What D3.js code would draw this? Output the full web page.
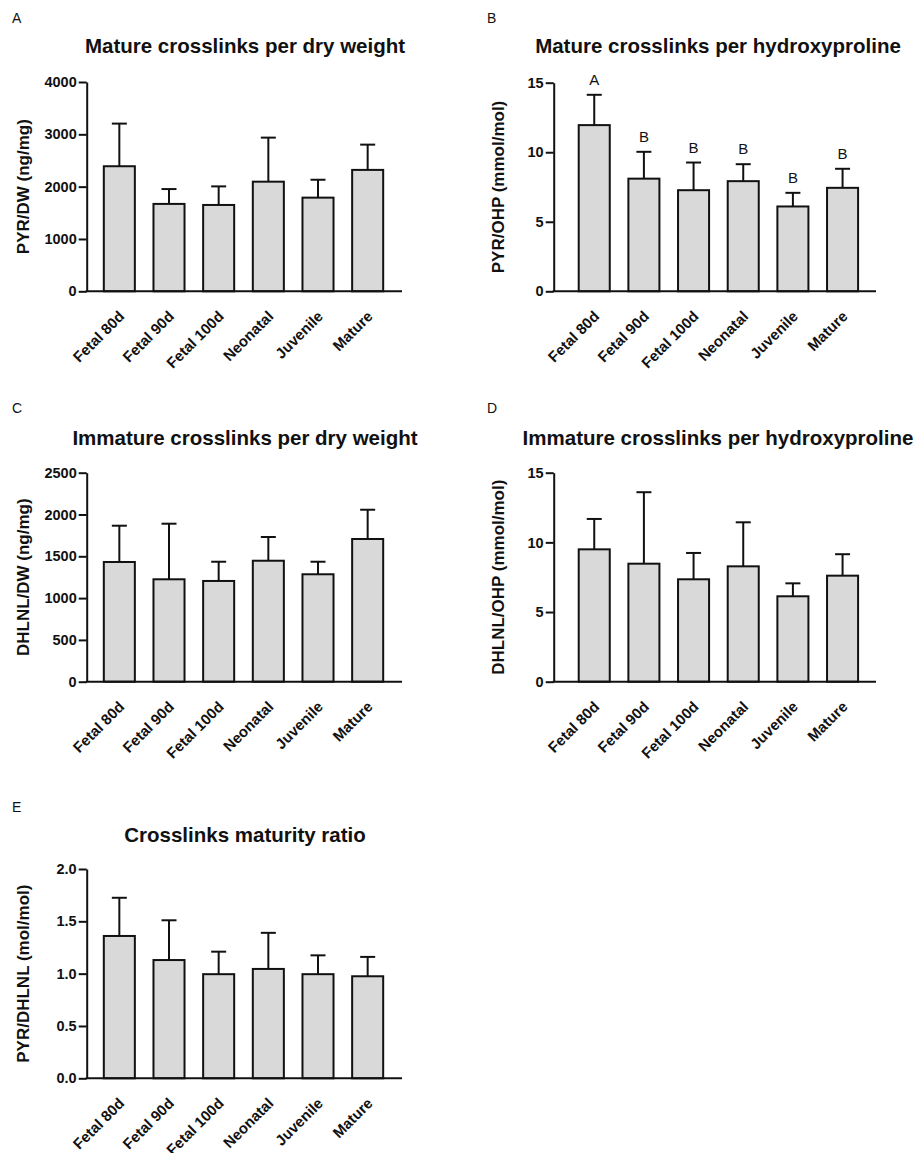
<!DOCTYPE html>
<html>
<head>
<meta charset="utf-8">
<script src="https://cdn.jsdelivr.net/npm/d3@7"></script>
<style>
  body { margin: 0; background: #fff; }
  svg text { font-family: "Liberation Sans", Arial, sans-serif; fill: #111; }
</style>
</head>
<body>
<svg id="chart"></svg>
<script>
// groups on the x axis
const categories = ["Fetal 80d", "Fetal 90d", "Fetal 100d", "Neonatal", "Juvenile", "Mature"];

// A - PYR/DW (ng/mg), mean and SD
const pyrDw = [2390, 1670, 1650, 2095, 1790, 2320];
const pyrDwSd = [815, 284, 355, 842, 342, 483];

// B - PYR/OHP (mmol/mol)
const pyrOhp = [11.95, 8.1, 7.27, 7.92, 6.1, 7.44];
const pyrOhpSd = [2.18, 1.93, 1.99, 1.22, 0.98, 1.37];
const pyrOhpLetters = ["A", "B", "B", "B", "B", "B"];

// C - DHLNL/DW (ng/mg)
const dhlnlDw = [1432, 1225, 1205, 1447, 1285, 1707];
const dhlnlDwSd = [434, 665, 230, 284, 150, 350];

// D - DHLNL/OHP (mmol/mol)
const dhlnlOhp = [9.5, 8.47, 7.35, 8.28, 6.13, 7.61];
const dhlnlOhpSd = [2.18, 5.13, 1.89, 3.16, 0.93, 1.54];

// E - PYR/DHLNL (mol/mol)
const ratio = [1.36, 1.13, 0.995, 1.045, 0.995, 0.975];
const ratioSd = [0.365, 0.38, 0.215, 0.345, 0.18, 0.185];

// tick labels
const ticksA = [0, 1000, 2000, 3000, 4000];
const ticksB = [0, 5, 10, 15];
const ticksC = [0, 500, 1000, 1500, 2000, 2500];
const ticksD = [0, 5, 10, 15];
const ticksE = [0, 0.5, 1.0, 1.5, 2.0];

const width = 918, height = 1153;
const svg = d3.select("#chart").attr("width", width).attr("height", height);

function drawPanel(p) {
    const g = svg.append("g");

    const x = d3.scaleBand()
        .domain(categories)
        .range([p.bx0, p.bx0 + 298])
        .paddingInner(0.375)
        .paddingOuter(0.1875);

    const y = d3.scaleLinear()
        .domain([0, p.max])
        .range([p.y0, p.yTop]);

    // panel letter + title
    g.append("text")
        .attr("x", p.lx).attr("y", p.ly)
        .style("font-size", "14px")
        .text(p.letter);
    g.append("text")
        .attr("x", p.tx).attr("y", p.ty)
        .attr("text-anchor", "middle")
        .style("font-size", "20.5px").style("font-weight", "bold")
        .text(p.title);

    const rows = categories.map((c, i) => ({ c: c, v: p.values[i], sd: p.sd[i], lab: p.labels ? p.labels[i] : null }));

    // bars
    g.selectAll("rect.bar")
        .data(rows)
        .join("rect")
        .attr("class", "bar")
        .attr("x", d => x(d.c))
        .attr("y", d => y(d.v))
        .attr("width", x.bandwidth())
        .attr("height", d => y(0) - y(d.v))
        .attr("fill", "#d9d9d9")
        .attr("stroke", "#111")
        .attr("stroke-width", 2);

    // error bars (upper only)
    const cx = d => x(d.c) + x.bandwidth() / 2;
    g.selectAll("line.err")
        .data(rows)
        .join("line")
        .attr("class", "err")
        .attr("x1", cx).attr("x2", cx)
        .attr("y1", d => y(d.v)).attr("y2", d => y(d.v + d.sd))
        .attr("stroke", "#111").attr("stroke-width", 2);
    g.selectAll("line.cap")
        .data(rows)
        .join("line")
        .attr("class", "cap")
        .attr("x1", d => cx(d) - 7.5).attr("x2", d => cx(d) + 7.5)
        .attr("y1", d => y(d.v + d.sd)).attr("y2", d => y(d.v + d.sd))
        .attr("stroke", "#111").attr("stroke-width", 2);

    if (p.labels) {
        g.selectAll("text.sig")
            .data(rows)
            .join("text")
            .attr("class", "sig")
            .attr("x", cx)
            .attr("y", d => y(d.v + d.sd) - 10)
            .attr("text-anchor", "middle")
            .style("font-size", "15px")
            .text(d => d.lab);
    }

    // y axis
    const yAxis = g.append("g")
        .attr("transform", `translate(${p.ax},0)`)
        .call(d3.axisLeft(y).tickValues(p.ticks).tickSize(8).tickSizeOuter(0).tickPadding(2)
            .tickFormat(p.fmt ? d3.format(p.fmt) : d3.format("d")));
    yAxis.select(".domain").attr("stroke", "#111").attr("stroke-width", 2);
    yAxis.selectAll(".tick line").attr("stroke", "#111").attr("stroke-width", 2);
    yAxis.selectAll(".tick text")
        .style("font-size", "14.5px").style("font-weight", "bold")
        .attr("fill", "#111");

    // x axis line (no ticks)
    g.append("line")
        .attr("x1", p.ax - 1).attr("x2", p.xEnd)
        .attr("y1", p.y0).attr("y2", p.y0)
        .attr("stroke", "#111").attr("stroke-width", 2);

    // rotated category labels
    g.selectAll("text.cat")
        .data(categories)
        .join("text")
        .attr("class", "cat")
        .attr("text-anchor", "end")
        .attr("transform", d => `translate(${x(d) + x.bandwidth() / 2 + 6},${p.y0 + 26}) rotate(-45)`)
        .style("font-size", "15px").style("font-weight", "bold")
        .text(d => d);

    // y axis title
    g.append("text")
        .attr("transform", `translate(${p.ylx},${(p.y0 + p.yTop) / 2}) rotate(-90)`)
        .attr("text-anchor", "middle")
        .style("font-size", "17px").style("font-weight", "bold")
        .text(p.ylabel);
}

const left = { ax: 86.7, bx0: 94.5, xEnd: 402, ylx: 29, lx: 12, tx: 245 };
const right = { ax: 553.7, bx0: 569.4, xEnd: 876, ylx: 504, lx: 487, tx: 718 };

drawPanel({ ...left, letter: "A", ly: 23, ty: 53, title: "Mature crosslinks per dry weight",
    y0: 291.3, yTop: 82, max: 4000, ticks: ticksA, values: pyrDw, sd: pyrDwSd, ylabel: "PYR/DW (ng/mg)" });

drawPanel({ ...right, letter: "B", ly: 23, ty: 53, title: "Mature crosslinks per hydroxyproline",
    y0: 291.3, yTop: 82.7, max: 15, ticks: ticksB, values: pyrOhp, sd: pyrOhpSd, labels: pyrOhpLetters,
    ylabel: "PYR/OHP (mmol/mol)" });

drawPanel({ ...left, letter: "C", ly: 413, ty: 445, title: "Immature crosslinks per dry weight",
    y0: 681.7, yTop: 472.7, max: 2500, ticks: ticksC, values: dhlnlDw, sd: dhlnlDwSd, ylabel: "DHLNL/DW (ng/mg)" });

drawPanel({ ...right, letter: "D", ly: 413, ty: 445, title: "Immature crosslinks per hydroxyproline",
    y0: 681.7, yTop: 472.7, max: 15, ticks: ticksD, values: dhlnlOhp, sd: dhlnlOhpSd, ylabel: "DHLNL/OHP (mmol/mol)" });

drawPanel({ ...left, letter: "E", ly: 812, ty: 842, title: "Crosslinks maturity ratio",
    y0: 1078.3, yTop: 869, max: 2, ticks: ticksE, fmt: ".1f", values: ratio, sd: ratioSd, ylabel: "PYR/DHLNL (mol/mol)" });
</script>
</body>
</html>
